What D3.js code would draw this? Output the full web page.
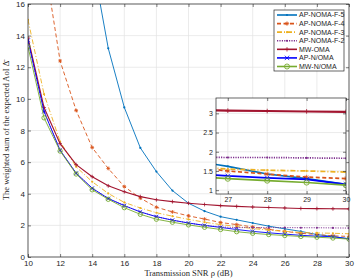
<!DOCTYPE html>
<html>
<head>
<meta charset="utf-8">
<script src="https://cdn.jsdelivr.net/npm/d3@7"></script>
<style>
  body { margin: 0; background: #fff; }
  text { font-family: "Liberation Sans", Arial, sans-serif; fill: #262626; }
  .serif { font-family: "Liberation Serif", "DejaVu Serif", serif; }
</style>
</head>
<body>
<div id="container"></div>
<script>
// data
const snr = [10, 11, 12, 13, 14, 15, 16, 17, 18, 19, 20, 21, 22, 23, 24, 25, 26, 27, 28, 29, 30];
const apNomaF5 = [60, 45, 33, 25, 18.8, 13.2, 9.46, 6.9, 5.4, 4.2, 3.4, 2.9, 2.55, 2.35, 2.15, 1.95, 1.78, 1.62, 1.42, 1.3, 1.15];
const apNomaF4 = [28, 18.8, 12.4, 9.27, 6.92, 5.6, 4.45, 3.72, 3.15, 2.85, 2.6, 2.4, 2.18, 2.05, 1.9, 1.75, 1.62, 1.5, 1.42, 1.34, 1.3];
const apNomaF3 = [15.0, 10.3, 7.3, 5.7, 4.76, 4.02, 3.45, 3.1, 2.8, 2.58, 2.38, 2.2, 2.05, 1.93, 1.8, 1.7, 1.62, 1.55, 1.52, 1.5, 1.47];
const apNomaF2 = [13.7, 9.2, 6.75, 5.3, 4.35, 3.7, 3.25, 2.85, 2.55, 2.33, 2.15, 2.0, 1.9, 1.86, 1.86, 1.86, 1.86, 1.85, 1.85, 1.84, 1.83];
const mwOma = [13.85, 9.45, 7.17, 5.84, 5.08, 4.5, 4.13, 3.82, 3.62, 3.5, 3.4, 3.32, 3.25, 3.2, 3.16, 3.13, 3.1, 3.07, 3.06, 3.05, 3.04];
const apNOma = [13.7, 9.2, 6.75, 5.3, 4.35, 3.7, 3.25, 2.85, 2.55, 2.33, 2.15, 2.0, 1.87, 1.74, 1.62, 1.53, 1.45, 1.37, 1.32, 1.28, 1.15];
const mwNOma = [13.3, 8.8, 6.7, 5.25, 4.25, 3.65, 3.12, 2.7, 2.39, 2.2, 2.03, 1.88, 1.74, 1.6, 1.5, 1.42, 1.36, 1.3, 1.25, 1.2, 1.13];

const xTicks = [10, 12, 14, 16, 18, 20, 22, 24, 26, 28, 30];
const yTicks = [0, 2, 4, 6, 8, 10, 12, 14, 16];
const insetXTicks = [27, 28, 29, 30];
const insetYTicks = [1, 1.5, 2, 2.5, 3];

const series = [
    { name: "AP-NOMA-F-5", values: apNomaF5, color: "#0072BD", dash: null, marker: "dot" },
    { name: "AP-NOMA-F-4", values: apNomaF4, color: "#D95319", dash: "4,2.5", marker: "star" },
    { name: "AP-NOMA-F-3", values: apNomaF3, color: "#EDB120", dash: "5,2,1,2", marker: "dot" },
    { name: "AP-NOMA-F-2", values: apNomaF2, color: "#7E2F8E", dash: "1.2,1.2", marker: "dot" },
    { name: "MW-OMA", values: mwOma, color: "#A2142F", dash: null, marker: "plus" },
    { name: "AP-N/OMA", values: apNOma, color: "#0000FF", dash: null, marker: "cross" },
    { name: "MW-N/OMA", values: mwNOma, color: "#77AC30", dash: null, marker: "circle" }
];

const WIDTH = 357;
const HEIGHT = 279;
const PLOT = { left: 28, right: 349, top: 4, bottom: 257 };
const INSET = { left: 216, right: 346, top: 98, bottom: 194 };
const GRID = "#e3e3e3";
const AXIS = "#262626";

const svg = d3.select("#container")
    .append("svg")
    .attr("width", WIDTH)
    .attr("height", HEIGHT);

const defs = svg.append("defs");
defs.append("clipPath").attr("id", "clipMain")
    .append("rect")
    .attr("x", PLOT.left).attr("y", PLOT.top)
    .attr("width", PLOT.right - PLOT.left).attr("height", PLOT.bottom - PLOT.top);
defs.append("clipPath").attr("id", "clipInset")
    .append("rect")
    .attr("x", INSET.left).attr("y", INSET.top)
    .attr("width", INSET.right - INSET.left).attr("height", INSET.bottom - INSET.top);

// marker path generator
const markerPath = (type, s) => {
    if (type === "plus") return `M${-s},0H${s}M0,${-s}V${s}`;
    if (type === "cross") return `M${-s},${-s}L${s},${s}M${-s},${s}L${s},${-s}`;
    if (type === "star") {
        const d = s * 0.7;
        return `M${-s},0H${s}M0,${-s}V${s}M${-d},${-d}L${d},${d}M${-d},${d}L${d},${-d}`;
    }
    return null;
};

const drawMarker = (g, marker, color, x, y, size) => {
    if (marker === "dot") {
        g.append("circle").attr("cx", x).attr("cy", y)
            .attr("r", 1.1).attr("fill", color);
    } else if (marker === "circle") {
        g.append("circle").attr("cx", x).attr("cy", y)
            .attr("r", size * 1.15).attr("fill", "none")
            .attr("stroke", color).attr("stroke-width", 0.9);
    } else {
        g.append("path")
            .attr("transform", `translate(${x},${y})`)
            .attr("d", markerPath(marker, size))
            .attr("fill", "none").attr("stroke", color).attr("stroke-width", 0.8);
    }
};

const drawPanel = (box, xScale, yScale, xt, yt, clipId, lineWidth, markerSize, fontSize, fmt) => {
    const panel = svg.append("g");
    panel.append("rect")
        .attr("x", box.left).attr("y", box.top)
        .attr("width", box.right - box.left).attr("height", box.bottom - box.top)
        .attr("fill", "#fff");

    // grid
    panel.append("g").selectAll("line").data(xt).enter().append("line")
        .attr("x1", (d) => xScale(d)).attr("x2", (d) => xScale(d))
        .attr("y1", box.top).attr("y2", box.bottom)
        .attr("stroke", GRID).attr("stroke-width", 0.7);
    panel.append("g").selectAll("line").data(yt).enter().append("line")
        .attr("x1", box.left).attr("x2", box.right)
        .attr("y1", (d) => yScale(d)).attr("y2", (d) => yScale(d))
        .attr("stroke", GRID).attr("stroke-width", 0.7);

    // lines
    const plot = panel.append("g").attr("clip-path", `url(#${clipId})`);
    const line = d3.line()
        .x((d, i) => xScale(snr[i]))
        .y((d) => yScale(d));
    series.forEach((s) => {
        plot.append("path")
            .attr("d", line(s.values))
            .attr("fill", "none")
            .attr("stroke", s.color)
            .attr("stroke-width", s.name === "MW-OMA" ? lineWidth * 1.25 : lineWidth)
            .attr("stroke-dasharray", s.dash);
        const mg = plot.append("g");
        snr.forEach((x, i) => drawMarker(mg, s.marker, s.color, xScale(x), yScale(s.values[i]), markerSize));
    });

    // axes
    const bottomAxis = d3.axisBottom(xScale).tickValues(xt).tickSize(-3).tickPadding(3).tickFormat(fmt);
    const leftAxis = d3.axisLeft(yScale).tickValues(yt).tickSize(-3).tickPadding(3).tickFormat(fmt);
    const topAxis = d3.axisTop(xScale).tickValues(xt).tickSize(-3).tickFormat("");
    const rightAxis = d3.axisRight(yScale).tickValues(yt).tickSize(-3).tickFormat("");

    const axes = [
        panel.append("g").attr("transform", `translate(0,${box.bottom})`).call(bottomAxis),
        panel.append("g").attr("transform", `translate(${box.left},0)`).call(leftAxis),
        panel.append("g").attr("transform", `translate(0,${box.top})`).call(topAxis),
        panel.append("g").attr("transform", `translate(${box.right},0)`).call(rightAxis)
    ];
    axes.forEach((a) => {
        a.select(".domain").attr("d", null);
        a.selectAll(".tick line").attr("stroke", AXIS).attr("stroke-width", 0.6);
        a.selectAll("text").attr("font-size", fontSize).attr("fill", AXIS)
            .attr("font-family", "'Liberation Sans', Arial, sans-serif");
    });
    panel.append("rect")
        .attr("x", box.left).attr("y", box.top)
        .attr("width", box.right - box.left).attr("height", box.bottom - box.top)
        .attr("fill", "none").attr("stroke", AXIS).attr("stroke-width", 0.7);
    return panel;
};

// main plot
const xScale = d3.scaleLinear().domain([10, 30]).range([PLOT.left, PLOT.right]);
const yScale = d3.scaleLinear().domain([0, 16]).range([PLOT.bottom, PLOT.top]);
drawPanel(PLOT, xScale, yScale, xTicks, yTicks, "clipMain", 0.9, 1.9, 8, d3.format("d"));

// inset zoom
const xInset = d3.scaleLinear().domain([26.7, 30]).range([INSET.left, INSET.right]);
const yInset = d3.scaleLinear().domain([0.9, 3.4]).range([INSET.bottom, INSET.top]);
drawPanel(INSET, xInset, yInset, insetXTicks, insetYTicks, "clipInset", 1.7, 2.3, 7, (d) => d3.format("")(d));

// axis titles
svg.append("text")
    .attr("class", "serif")
    .attr("x", (PLOT.left + PLOT.right) / 2)
    .attr("y", 276)
    .attr("text-anchor", "middle")
    .attr("font-size", 8.5)
    .text("Transmission SNR ρ (dB)");

svg.append("text")
    .attr("class", "serif")
    .attr("transform", `translate(9,${(PLOT.top + PLOT.bottom) / 2}) rotate(-90)`)
    .attr("text-anchor", "middle")
    .attr("font-size", 8.5)
    .text("The weighted sum of the expected AoI Δ\u0304");

// legend
const legend = svg.append("g");
legend.append("rect")
    .attr("x", 274).attr("y", 10).attr("width", 70).attr("height", 61)
    .attr("fill", "#fff").attr("stroke", AXIS).attr("stroke-width", 0.7);
const ly = d3.scaleLinear().domain([0, series.length - 1]).range([15, 66.5]);
series.forEach((s, i) => {
    const g = legend.append("g");
    g.append("line")
        .attr("x1", 277).attr("x2", 297)
        .attr("y1", ly(i)).attr("y2", ly(i))
        .attr("stroke", s.color).attr("stroke-width", 1.6)
        .attr("stroke-dasharray", s.dash);
    drawMarker(g, s.marker, s.color, 287, ly(i), 2.2);
    g.append("text")
        .attr("x", 299).attr("y", ly(i))
        .attr("dy", "0.35em")
        .attr("font-size", 7)
        .text(s.name);
});
</script>
</body>
</html>
